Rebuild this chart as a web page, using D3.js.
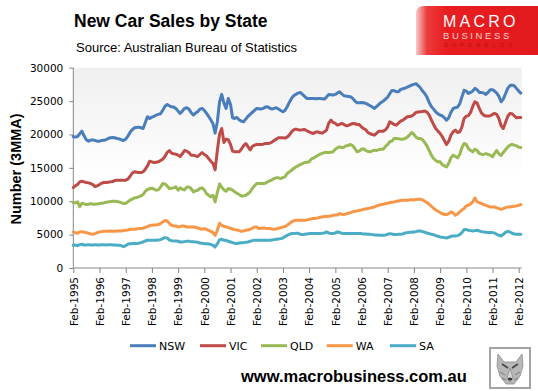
<!DOCTYPE html>
<html><head><meta charset="utf-8">
<script src="https://cdn.jsdelivr.net/npm/d3@7"></script>
<style>html,body{margin:0;padding:0;background:#fff;}svg{display:block;}</style>
</head><body>
<svg id="chart" width="538" height="391"></svg>
<script>
// ---- DATA (monthly 3-month moving averages, Feb-1995 .. Mar-2012) ----
const startYear = 1995, startMonth = 1; // Feb
const tickLabels = ["Feb-1995","Feb-1996","Feb-1997","Feb-1998","Feb-1999","Feb-2000","Feb-2001","Feb-2002","Feb-2003","Feb-2004","Feb-2005","Feb-2006","Feb-2007","Feb-2008","Feb-2009","Feb-2010","Feb-2011","Feb-2012"];
const yTicks = [0, 5000, 10000, 15000, 20000, 25000, 30000];
const seriesNames = ["NSW", "VIC", "QLD", "WA", "SA"];
const seriesColors = ["#4a7ebb", "#be4b48", "#98b954", "#f79646", "#4bacc6"];

const NSW = [
  19700,19600,19700,20100,20500,19800,19200,19000,19150,19200,19100,19000,
  19000,19100,19150,19200,19400,19500,19550,19500,19400,19350,19200,19100,
  19300,19700,20300,20700,21000,21050,21100,21000,20900,21800,22650,22400,
  22600,22700,22900,23000,23100,23600,24200,24500,24300,24150,24100,23900,
  23500,23150,23500,23900,24000,23800,23300,22900,23200,23400,23800,23900,
  23600,23200,22700,22200,21600,20200,21900,24900,26000,24700,23900,25400,
  24500,22500,22400,22550,22200,22000,21900,22300,22700,23000,23300,23600,
  23900,23850,23800,23900,24100,24150,23950,23800,23900,24000,23800,23600,
  23400,23600,24150,24800,25400,25800,26000,26200,26300,26000,25700,25400,
  25400,25400,25400,25350,25400,25400,25350,25300,25600,26000,25950,25900,
  26000,26200,26400,26100,25800,25750,25700,25650,25400,25000,24750,24750,
  24800,24750,24650,24500,24300,24100,23900,24200,24500,24800,25000,25300,
  25600,26100,26600,26550,26400,26400,26750,26850,26950,27100,27250,27400,
  27500,27600,27300,27000,26500,26150,25600,24800,24200,23800,23400,23100,
  22900,22800,22500,22150,22500,23300,23900,24000,24100,24600,25600,26600,
  26500,26150,26300,26500,26900,26700,26300,26300,26200,26000,26300,26700,
  26700,26500,26200,25700,24900,25300,26100,26900,27300,27400,27300,26900,
  26500,26200
];
const VIC = [
  12050,12300,12500,12900,13000,12900,12800,12750,12650,12500,12200,12300,
  12500,12700,12800,12800,12850,12900,12950,13100,13150,13150,13150,13150,
  13150,13300,13700,14200,14400,14350,14300,14300,14400,14800,15300,16000,
  15900,15800,15850,15900,16100,16300,16700,17300,17600,17200,17100,17050,
  16900,16700,17100,17600,17500,17300,16900,16900,16800,16700,17000,17300,
  17000,16800,16400,16000,15650,14700,17600,20100,20900,18800,19300,19200,
  18500,17500,17400,17400,17400,17800,18300,18650,18200,17700,18200,18400,
  18500,18500,18500,18550,18650,18650,18700,18850,19100,19300,19500,19500,
  19500,19450,19600,19900,20400,20700,20800,20700,20650,20700,20750,20550,
  20400,20250,20150,20350,20400,20250,20200,20400,20650,21700,22150,21800,
  21650,21400,21500,21650,21500,21300,21350,21500,21650,21600,21500,21500,
  21100,20900,20700,20300,20100,20000,19900,20200,20500,20500,20500,20700,
  21150,21900,21700,21500,21400,21700,22000,22150,22400,22650,22700,22750,
  23000,23300,23350,23400,23450,23500,23350,22900,22200,21500,20900,20500,
  20150,19700,19100,18500,19000,19900,20400,20650,20300,20400,21100,22400,
  22750,22800,23300,24200,24900,24700,23900,23200,22900,22750,22750,22800,
  23000,23150,23000,22400,21300,20900,21800,22700,23150,23100,22800,22500,
  22550,22550
];
const QLD = [
  9800,9750,9900,9200,9700,9600,9500,9550,9650,9550,9550,9600,
  9650,9700,9750,9850,9900,9950,10000,10000,9950,9900,9800,9650,
  9700,9900,10150,10300,10500,10550,10650,10800,11000,11500,11750,11900,
  11950,11800,11650,11700,12100,12650,12600,12300,11900,11950,12000,12150,
  11650,12000,11800,11700,12100,12150,11900,11400,11550,11650,11900,12000,
  11700,11150,10900,10650,10900,9900,11300,12600,12100,11700,11500,11900,
  11800,11650,11400,11200,11000,10800,10800,10900,11100,11400,11900,12300,
  12650,12650,12650,12650,12700,12900,13050,13200,13400,13500,13500,13400,
  13550,13650,14150,14400,14650,14900,15150,15300,15500,15650,15800,15850,
  15900,16300,16450,16650,16850,17050,17150,17300,17300,17300,17350,17400,
  17800,18000,18150,18050,18100,18300,18350,18500,18300,17900,17400,17500,
  17800,17850,17600,17450,17400,17550,17650,17600,17750,17800,17800,18200,
  18500,18900,19000,19400,19400,19350,19300,19300,19400,19600,19900,20300,
  20000,19600,19400,19400,19200,18800,18300,17600,16900,16400,16100,15900,
  15900,15500,15300,15150,15700,16500,16900,16700,16500,17000,18000,18650,
  18500,17900,17600,17400,17800,17600,17150,17050,17000,17150,17000,16900,
  16650,17150,17600,17100,16850,17300,17700,18100,18400,18500,18400,18300,
  18100,18050
];
const WA = [
  5400,5300,5200,5400,5450,5350,5300,5200,5100,5050,5150,5300,
  5400,5450,5500,5500,5500,5550,5500,5500,5550,5550,5550,5600,
  5650,5700,5800,5800,5800,5850,5900,5900,5950,6100,6200,6350,
  6400,6450,6450,6500,6650,6900,7100,7050,6700,6400,6300,6300,
  6150,6200,6300,6250,6150,6150,6150,6150,6100,6000,5900,5800,
  5900,5800,5650,5500,5300,4900,5650,6700,6400,6250,6150,6050,
  5950,5850,5750,5700,5600,5500,5550,5650,5700,5800,5950,6150,
  6150,5900,5950,6000,5950,5900,5900,5850,5800,5850,5950,6050,
  6150,6200,6400,6650,6900,7050,7150,7150,7150,7150,7150,7200,
  7300,7350,7400,7450,7500,7600,7650,7700,7700,7750,7800,7900,
  7950,7950,8150,8050,8000,8100,8200,8300,8400,8500,8550,8650,
  8700,8800,8850,8900,9000,9050,9150,9300,9400,9500,9550,9650,
  9700,9800,9850,9900,10000,10050,10100,10150,10150,10150,10200,10250,
  10200,10250,10300,10300,10200,10000,9800,9550,9250,8950,8700,8500,
  8300,8150,8000,8000,8150,8400,8250,7900,8100,8400,8700,8900,
  9300,9400,9600,9900,10500,9900,9800,9650,9500,9400,9250,9150,
  9150,9150,9000,8900,8800,8900,9050,9150,9150,9200,9250,9300,
  9400,9500
];
const SA = [
  3400,3450,3350,3500,3550,3450,3450,3500,3450,3450,3500,3450,
  3450,3500,3500,3450,3500,3500,3450,3450,3400,3400,3350,3200,
  3350,3550,3650,3650,3700,3650,3700,3800,3900,4050,4150,4150,
  4150,4150,4150,4200,4250,4400,4550,4500,4200,4100,4050,4050,
  4000,3900,3900,3950,4000,4000,3950,3950,3900,3850,3750,3700,
  3650,3650,3600,3550,3400,3150,3600,4250,4300,4150,4150,4000,
  3900,3800,3700,3650,3750,3800,3800,3850,3900,4000,4100,4150,
  4150,4150,4150,4150,4150,4150,4150,4200,4250,4300,4350,4400,
  4500,4700,4900,5050,5150,5150,5200,5200,5050,5000,5050,5100,
  5150,5150,5150,5150,5150,5150,5200,5250,5400,5250,5150,5150,
  5250,5400,5350,5200,5150,5150,5150,5150,5150,5150,5150,5150,
  5150,5100,5100,5050,5050,5000,4950,4950,4900,4900,4900,4950,
  5050,5150,5100,5000,5000,5050,5050,5100,5250,5300,5350,5350,
  5400,5450,5550,5550,5450,5350,5250,5150,5050,5000,4850,4750,
  4650,4600,4550,4500,4600,4750,4800,4800,4850,5000,5300,5750,
  5750,5650,5600,5550,5600,5650,5550,5450,5400,5350,5300,5300,
  5300,5250,5050,4900,4800,5050,5350,5500,5400,5200,5100,5050,
  5050,5050
];
const seriesValues = [NSW, VIC, QLD, WA, SA];

// ---- CHART ----
const svg = d3.select("#chart");
const defs = svg.append("defs");

const plot = {left: 73.3, right: 521.7, top: 67.7, bottom: 268};
const parseTick = d3.timeParse("%b-%Y");
const x = d3.scaleTime()
  .domain([parseTick(tickLabels[0]), parseTick(tickLabels[tickLabels.length - 1])])
  .range([73.3, 518.7]);
const y = d3.scaleLinear().domain([0, 30000]).range([plot.bottom, plot.top]);

// plot background gradient
const bg = defs.append("linearGradient").attr("id", "plotbg").attr("x1", 0).attr("y1", 0).attr("x2", 0).attr("y2", 1);
bg.append("stop").attr("offset", "0%").attr("stop-color", "#efefef");
bg.append("stop").attr("offset", "55%").attr("stop-color", "#ffffff");
svg.append("rect").attr("x", plot.left).attr("y", plot.top)
  .attr("width", plot.right - plot.left).attr("height", plot.bottom - plot.top)
  .attr("fill", "url(#plotbg)");

// title & subtitle
svg.append("text").attr("x", 74).attr("y", 26.5)
  .attr("font-family", "'Liberation Sans', Arial, sans-serif").attr("font-weight", "bold")
  .attr("font-size", "17.5px").attr("fill", "#000").text("New Car Sales by State");
svg.append("text").attr("x", 76).attr("y", 52)
  .attr("font-family", "'Liberation Sans', Arial, sans-serif")
  .attr("font-size", "13px").attr("fill", "#000").text("Source: Australian Bureau of Statistics");

// logo
const lg = defs.append("linearGradient").attr("id", "logobg").attr("x1", 0).attr("y1", 0).attr("x2", 1).attr("y2", 0);
lg.append("stop").attr("offset", "0%").attr("stop-color", "#f7c9c9");
lg.append("stop").attr("offset", "9%").attr("stop-color", "#ec3b3b");
lg.append("stop").attr("offset", "25%").attr("stop-color", "#e81d20");
lg.append("stop").attr("offset", "100%").attr("stop-color", "#e21a1d");
svg.append("path")
  .attr("d", "M416,14 Q416,6 424,6 L538,6 L538,55 L416,55 Z")
  .attr("fill", "url(#logobg)");
svg.append("text").attr("x", 443).attr("y", 27).attr("font-family", "'Liberation Sans', Arial, sans-serif")
  .attr("font-size", "16px").attr("fill", "#ffffff").attr("letter-spacing", "3.2px").text("MACRO");
svg.append("text").attr("x", 443).attr("y", 38.5).attr("font-family", "'Liberation Sans', Arial, sans-serif")
  .attr("font-size", "9.5px").attr("fill", "#f8d0d0").attr("letter-spacing", "2.6px").text("BUSINESS");
svg.append("text").attr("x", 444).attr("y", 47).attr("font-family", "'Liberation Sans', Arial, sans-serif")
  .attr("font-size", "5.5px").attr("fill", "#b51215").attr("letter-spacing", "4.3px").text("SUPERBLOG");

// axes
const axisColor = "#868686";
const fontAxis = "'DejaVu Sans', Verdana, sans-serif";
const yAxis = svg.append("g").attr("transform", `translate(${plot.left},0)`)
  .call(d3.axisLeft(y).tickValues(yTicks).tickFormat(d3.format("d")).tickSize(4).tickPadding(6));
yAxis.select(".domain").attr("stroke", axisColor).attr("d", `M0,${plot.top}V${plot.bottom}`);
yAxis.selectAll(".tick line").attr("stroke", axisColor);
yAxis.selectAll(".tick text").attr("font-family", fontAxis).attr("font-size", "10.5px").attr("fill", "#000");

const xAxis = svg.append("g").attr("transform", `translate(0,${plot.bottom})`)
  .call(d3.axisBottom(x).tickValues(tickLabels.map(parseTick)).tickFormat(d3.timeFormat("%b-%Y")).tickSize(5).tickSizeOuter(0));
xAxis.select(".domain").attr("stroke", axisColor).attr("d", `M${plot.left},0H${plot.right}`);
xAxis.selectAll(".tick line").attr("stroke", axisColor);
xAxis.selectAll(".tick text")
  .attr("font-family", fontAxis).attr("font-size", "10.5px").attr("fill", "#000")
  .attr("text-anchor", "end").attr("transform", "rotate(-90)")
  .attr("x", -9).attr("y", 0).attr("dy", "0.36em");

// y axis title
svg.append("text").attr("transform", "translate(21,169) rotate(-90)")
  .attr("text-anchor", "middle").attr("font-family", "'Liberation Sans', Arial, sans-serif")
  .attr("font-weight", "bold").attr("font-size", "14.5px").attr("fill", "#000").text("Number (3MMA)");

// lines
const line = d3.line()
  .x((d, i) => x(d3.timeMonth.offset(new Date(startYear, startMonth, 1), i)))
  .y(d => y(d));
seriesValues.forEach((vals, k) => {
  svg.append("path").datum(vals)
    .attr("fill", "none").attr("stroke", seriesColors[k]).attr("stroke-width", 3)
    .attr("stroke-linejoin", "round").attr("stroke-linecap", "round")
    .attr("d", line);
});

// legend
const legendX = [130, 200, 261, 326.7, 390];
const legY = 345.7;
seriesNames.forEach((name, k) => {
  svg.append("line").attr("x1", legendX[k]).attr("x2", legendX[k] + 26)
    .attr("y1", legY).attr("y2", legY).attr("stroke", seriesColors[k]).attr("stroke-width", 3);
  svg.append("text").attr("x", legendX[k] + 29).attr("y", legY + 4)
    .attr("font-family", fontAxis).attr("font-size", "11px").attr("fill", "#000").text(name);
});

// footer
svg.append("text").attr("x", 241).attr("y", 382)
  .attr("font-family", "'Liberation Sans', Arial, sans-serif").attr("font-weight", "bold")
  .attr("font-size", "16.5px").attr("fill", "#000").text("www.macrobusiness.com.au");

// wolf badge (approximation)
const w = svg.append("g").attr("transform", "translate(490,348)");
w.append("rect").attr("x", 0).attr("y", 0).attr("width", 40).attr("height", 40)
  .attr("fill", "#fff").attr("stroke", "#a3a3a3").attr("stroke-width", 2);
w.append("path").attr("d", "M8,6 L14,14 L26,14 L32,6 L33,18 L30,28 L24,36 L16,36 L10,28 L7,18 Z")
  .attr("fill", "#b8b8b8").attr("stroke", "#8a8a8a").attr("stroke-width", 0.8);
w.append("path").attr("d", "M12,16 L18,20 M28,16 L22,20").attr("stroke", "#444").attr("stroke-width", 1.6);
w.append("path").attr("d", "M20,20 L17,30 L20,34 L23,30 Z").attr("fill", "#d9d9d9").attr("stroke", "#777").attr("stroke-width", 0.6);
w.append("ellipse").attr("cx", 20).attr("cy", 31).attr("rx", 2.2).attr("ry", 1.6).attr("fill", "#333");
w.append("path").attr("d", "M10,24 L15,27 M30,24 L25,27 M12,30 L16,32 M28,30 L24,32").attr("stroke", "#6a6a6a").attr("stroke-width", 0.8);
</script>
</body></html>
